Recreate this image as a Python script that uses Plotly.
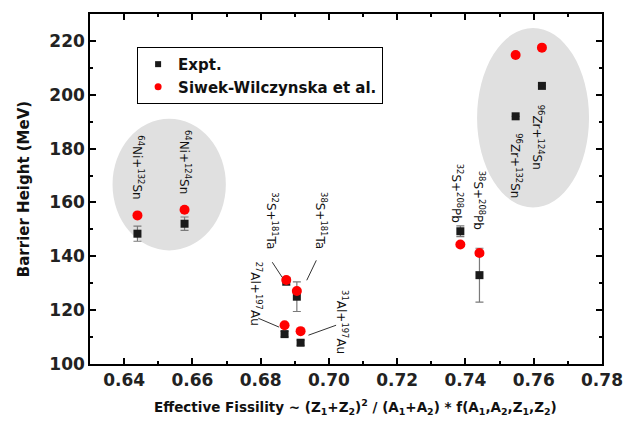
import plotly.graph_objects as go

# Data
reactions = ["64Ni+132Sn", "64Ni+124Sn", "32S+181Ta", "38S+181Ta", "27Al+197Au",
             "31Al+197Au", "32S+208Pb", "38S+208Pb", "96Zr+132Sn", "96Zr+124Sn"]
fissility = [0.6439, 0.6577, 0.6875, 0.6906, 0.6870, 0.6917, 0.7385, 0.7441, 0.7547, 0.7624]
expt_barrier = [148.4, 152.1, 130.7, 125.0, 111.1, 107.9, 149.3, 133.0, 192.0, 203.3]
expt_err = [2.8, 2.5, 1.5, 5.5, 1.0, 1.0, 2.0, 10.0, 0.0, 0.0]
theory_barrier = [155.2, 157.3, 131.2, 127.1, 114.4, 112.2, 144.4, 141.2, 214.8, 217.5]

label_text = ["<sup>64</sup>Ni+<sup>132</sup>Sn", "<sup>64</sup>Ni+<sup>124</sup>Sn",
              "<sup>32</sup>S+<sup>181</sup>Ta", "<sup>38</sup>S+<sup>181</sup>Ta",
              "<sup>27</sup>Al+<sup>197</sup>Au", "<sup>31</sup>Al+<sup>197</sup>Au",
              "<sup>32</sup>S+<sup>208</sup>Pb", "<sup>38</sup>S+<sup>208</sup>Pb",
              "<sup>96</sup>Zr+<sup>132</sup>Sn", "<sup>96</sup>Zr+<sup>124</sup>Sn"]
label_x = [0.6438, 0.6580, 0.6834, 0.6978, 0.6785, 0.7038, 0.7376, 0.7442, 0.7549, 0.7615]
label_y = [173.0, 175.2, 153.3, 153.3, 126.3, 115.6, 163.5, 160.7, 173.7, 184.1]

fig = go.Figure()

fig.add_trace(go.Scatter(
    x=fissility, y=expt_barrier, mode="markers", name="Expt.", showlegend=False,
    marker=dict(symbol="square", size=8, color="#1a1a1a"),
    error_y=dict(type="data", array=expt_err, visible=True, color="#7a7a7a",
                 thickness=1.2, width=4),
))
fig.add_trace(go.Scatter(
    x=fissility, y=theory_barrier, mode="markers", name="Siwek-Wilczynska et al.", showlegend=False,
    marker=dict(symbol="circle", size=10, color="#ff0000"),
))
# legend entries (smaller symbols, as in the reference)
fig.add_trace(go.Scatter(x=[None], y=[None], mode="markers", name="Expt.",
                         marker=dict(symbol="square", size=6, color="#1a1a1a")))
fig.add_trace(go.Scatter(x=[None], y=[None], mode="markers", name="Siwek-Wilczynska et al.",
                         marker=dict(symbol="circle", size=7, color="#ff0000")))

shapes = [
    dict(type="circle", xref="x", yref="y", x0=0.6366, x1=0.6698, y0=142.2, y1=191.1,
         fillcolor="#e0e0e0", line=dict(width=0), layer="below"),
    dict(type="circle", xref="x", yref="y", x0=0.7434, x1=0.7762, y0=158.1, y1=224.8,
         fillcolor="#e0e0e0", line=dict(width=0), layer="below"),
]
leaders = [((0.6834, 137.8), (0.6863, 132.2)),
           ((0.6963, 138.5), (0.6935, 131.1)),
           ((0.6793, 117.0), (0.6854, 113.7)),
           ((0.6940, 110.7), (0.7021, 114.4))]
for (a, b) in leaders:
    shapes.append(dict(type="line", xref="x", yref="y", x0=a[0], y0=a[1], x1=b[0], y1=b[1],
                       line=dict(color="#333333", width=1)))

annotations = []
for t, lx, ly in zip(label_text, label_x, label_y):
    annotations.append(dict(x=lx, y=ly, xref="x", yref="y", text=t, showarrow=False,
                            textangle=90, font=dict(family="DejaVu Sans", size=12, color="#111111")))

annotations.append(dict(
    x=0.519, y=-0.1225, xref="paper", yref="paper", xanchor="center", yanchor="middle",
    showarrow=False,
    text="Effective Fissility ~ (Z<sub>1</sub>+Z<sub>2</sub>)<sup>2</sup> / (A<sub>1</sub>+A<sub>2</sub>) * f(A<sub>1</sub>,A<sub>2</sub>,Z<sub>1</sub>,Z<sub>2</sub>)",
    font=dict(family="DejaVu Sans", size=13.5, color="#111111", weight="bold")))

axis_common = dict(showline=True, linecolor="black", linewidth=1.5, mirror="ticks",
                   ticks="inside", ticklen=6, tickwidth=1.5, tickcolor="black",
                   showgrid=False, zeroline=False,
                   tickfont=dict(family="DejaVu Sans", size=17, color="#222222", weight="bold"))

fig.update_layout(
    width=635, height=424,
    margin=dict(l=90, r=25, t=13, b=60),
    paper_bgcolor="white", plot_bgcolor="white",
    showlegend=True,
    legend=dict(x=0.092, y=0.906, xanchor="left", yanchor="top",
                bordercolor="black", borderwidth=1, bgcolor="white",
                font=dict(family="DejaVu Sans", size=15, color="#111111", weight="bold"),
                tracegroupgap=0),
    xaxis=dict(range=[0.63, 0.78], dtick=0.02, tick0=0.64, tickformat=".2f",
               minor=dict(dtick=0.01, ticks="inside", ticklen=3, tickcolor="black"),
               **axis_common),
    yaxis=dict(range=[100, 230], dtick=20, tick0=100,
               minor=dict(dtick=10, ticks="inside", ticklen=3, tickcolor="black"),
               title=dict(text="Barrier Height (MeV)",
                          font=dict(family="DejaVu Sans", size=15, color="#111111", weight="bold"),
                          standoff=16),
               **axis_common),
    shapes=shapes,
    annotations=annotations,
)

fig.write_html("out.html")
